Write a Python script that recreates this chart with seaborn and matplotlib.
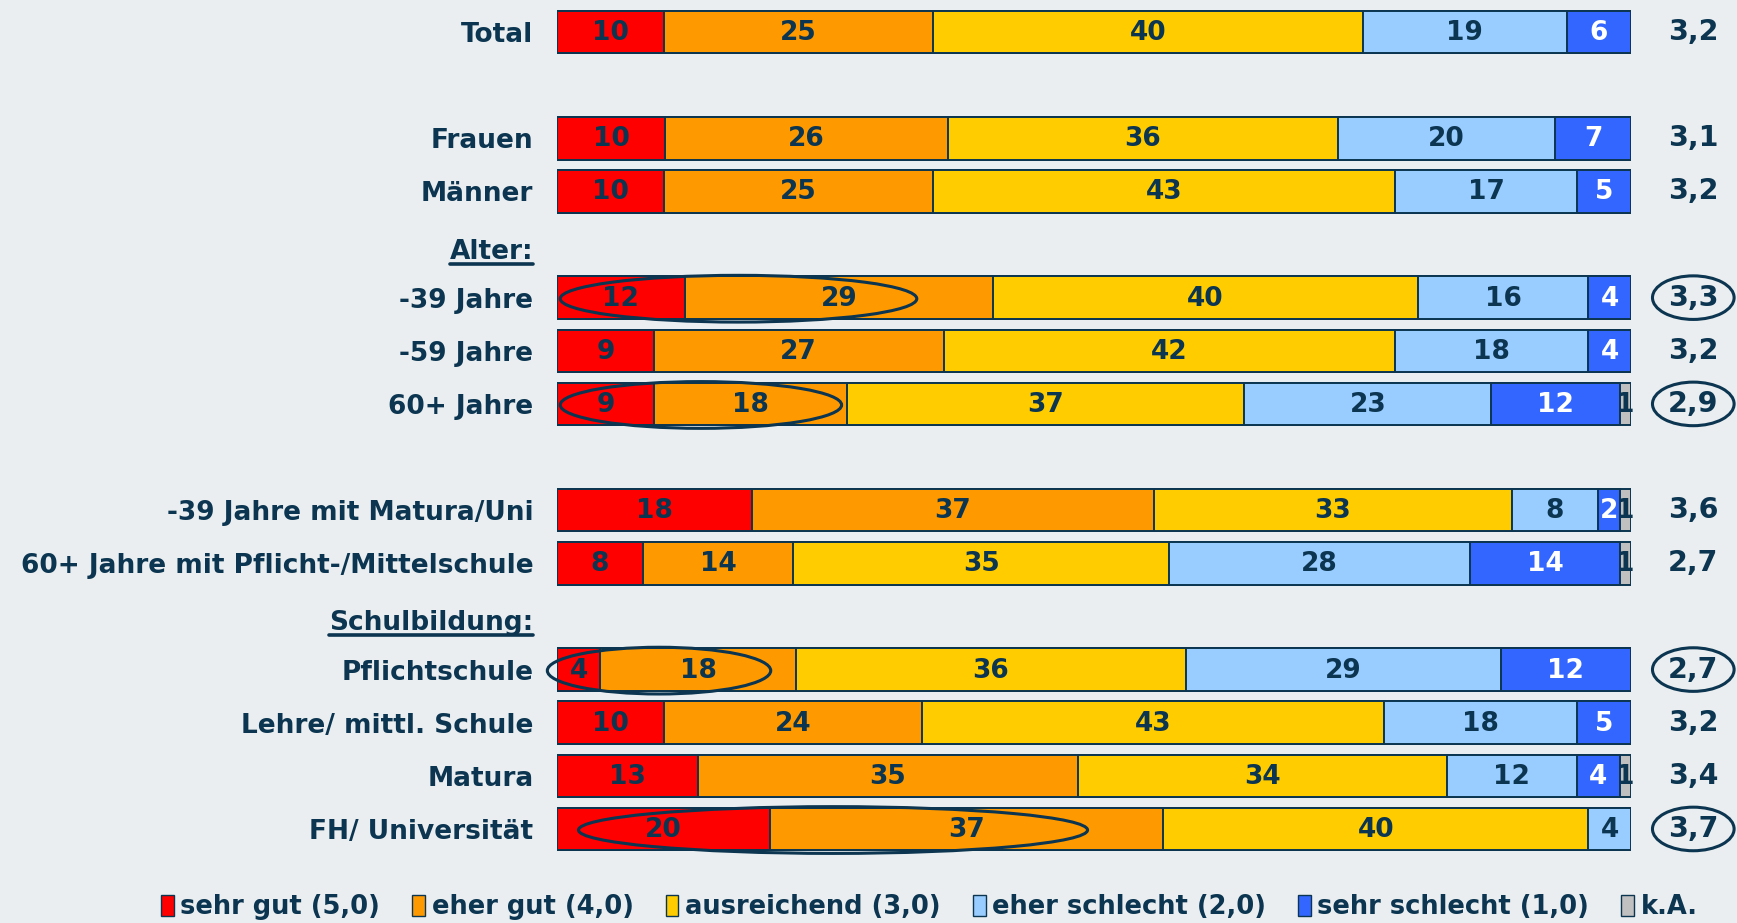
import numpy as np
import pandas as pd
import matplotlib
matplotlib.use("Agg")
import matplotlib.pyplot as plt
import seaborn as sns
from matplotlib.patches import Ellipse, Patch
from matplotlib.lines import Line2D

# ---------------- data ----------------
categories = ["sehr gut (5,0)", "eher gut (4,0)", "ausreichend (3,0)",
              "eher schlecht (2,0)", "sehr schlecht (1,0)", "k.A."]
groups = ["Total", "Frauen", "Männer", "-39 Jahre", "-59 Jahre", "60+ Jahre",
          "-39 Jahre mit Matura/Uni", "60+ Jahre mit Pflicht-/Mittelschule",
          "Pflichtschule", "Lehre/ mittl. Schule", "Matura", "FH/ Universität"]
sehr_gut      = [10, 10, 10, 12,  9,  9, 18,  8,  4, 10, 13, 20]
eher_gut      = [25, 26, 25, 29, 27, 18, 37, 14, 18, 24, 35, 37]
ausreichend   = [40, 36, 43, 40, 42, 37, 33, 35, 36, 43, 34, 40]
eher_schlecht = [19, 20, 17, 16, 18, 23,  8, 28, 29, 18, 12,  4]
sehr_schlecht = [ 6,  7,  5,  4,  4, 12,  2, 14, 12,  5,  4,  0]
keine_angabe  = [ 0,  0,  0,  0,  0,  1,  1,  1,  0,  0,  1,  0]
mittelwert = ["3,2", "3,1", "3,2", "3,3", "3,2", "2,9", "3,6", "2,7",
              "2,7", "3,2", "3,4", "3,7"]
circled_means = ["-39 Jahre", "60+ Jahre", "Pflichtschule", "FH/ Universität"]
headers = ["Alter:", "Schulbildung:"]
row_order = ["Total", "gap1", "Frauen", "Männer", "Alter:", "-39 Jahre",
             "-59 Jahre", "60+ Jahre", "gap2", "-39 Jahre mit Matura/Uni",
             "60+ Jahre mit Pflicht-/Mittelschule", "Schulbildung:",
             "Pflichtschule", "Lehre/ mittl. Schule", "Matura", "FH/ Universität"]
# ellipse highlights: (group, from %, to %)
highlights = [("-39 Jahre", 0.3, 33.5), ("60+ Jahre", 0.3, 26.5),
              ("Pflichtschule", -0.9, 19.9), ("FH/ Universität", 2.0, 49.4)]

colors = ["#FF0000", "#FF9900", "#FFCC00", "#99CCFF", "#3366FF", "#C0C0C0"]
navy = "#0B3550"
bg = "#EAEEF0"

# ---------------- table ----------------
vals = pd.DataFrame({c: v for c, v in zip(categories,
                     [sehr_gut, eher_gut, ausreichend, eher_schlecht,
                      sehr_schlecht, keine_angabe])}, index=groups)
shares = vals.div(vals.sum(axis=1), axis=0) * 100
cum = shares.cumsum(axis=1)
cum["group"] = groups

sns.set_theme(style="white")
plt.rcParams["font.family"] = ["DejaVu Sans"]
plt.rcParams["font.weight"] = "bold"

fig = plt.figure(figsize=(17.37, 9.23), dpi=100, facecolor=bg)
ax = fig.add_axes([557 / 1737, 0.0, 1074 / 1737, 1.0])
ax.set_facecolor(bg)

for i in range(len(categories) - 1, -1, -1):
    sns.barplot(data=cum, x=categories[i], y="group", order=row_order,
                color=colors[i], saturation=1, edgecolor=navy, linewidth=1.4,
                width=0.8, orient="h", ax=ax)

ax.set_xlim(0, 100)
ax.set_ylim(16.77, -0.602)
for s in ax.spines.values():
    s.set_visible(False)
ax.set_xticks([])
ax.set_xlabel("")
ax.set_ylabel("")
ax.set_yticks(range(len(row_order)))
ax.set_yticklabels([("" if r.startswith("gap") else r) for r in row_order],
                   fontsize=19, fontweight="bold", color=navy)
ax.tick_params(axis="y", length=0, pad=17)
for lab in ax.get_yticklabels():
    if lab.get_text() in headers:
        lab.set_transform(lab.get_transform() +
                          matplotlib.transforms.ScaledTranslation(0, -4 / 100, fig.dpi_scale_trans))

# segment labels
for g in groups:
    y = row_order.index(g)
    left = 0.0
    for j, c in enumerate(categories):
        w = shares.loc[g, c]
        v = vals.loc[g, c]
        if v > 0:
            ax.text(left + w / 2, y + 0.02, str(v), ha="center", va="center",
                    fontsize=19, fontweight="bold",
                    color="white" if j == 4 else navy, clip_on=False)
        left += w
    ax.text(105.8, y, mittelwert[groups.index(g)], ha="center", va="center",
            fontsize=20.5, fontweight="bold", color=navy, clip_on=False)
    if g in circled_means:
        ax.add_patch(Ellipse((105.8, y), 7.6, 0.82, fill=False, edgecolor=navy,
                             linewidth=2.2, clip_on=False))

for g, a, b in highlights:
    y = row_order.index(g)
    ax.add_patch(Ellipse(((a + b) / 2, y + 0.02), b - a, 0.88, fill=False,
                         edgecolor=navy, linewidth=2.2, clip_on=False, zorder=5))

# underline headers
fig.canvas.draw()
renderer = fig.canvas.get_renderer()
for lab in ax.get_yticklabels():
    if lab.get_text() in headers:
        bb = lab.get_window_extent(renderer)
        ybase = bb.y0 + 1
        fig.add_artist(Line2D([bb.x0 / fig.bbox.width, bb.x1 / fig.bbox.width],
                              [ybase / fig.bbox.height, ybase / fig.bbox.height],
                              color=navy, linewidth=2.6))

handles = [Patch(facecolor=colors[i], edgecolor=navy, linewidth=1.0)
           for i in range(len(categories))]
leg = fig.legend(handles, categories, loc="center", bbox_to_anchor=(0.535, 0.017),
                 ncol=6, frameon=False, handlelength=0.5, handleheight=0.9,
                 handletextpad=0.25, columnspacing=1.25, fontsize=18.5)
for t in leg.get_texts():
    t.set_color(navy)
    t.set_fontweight("bold")

fig.savefig("out.png", dpi=100, facecolor=bg)
